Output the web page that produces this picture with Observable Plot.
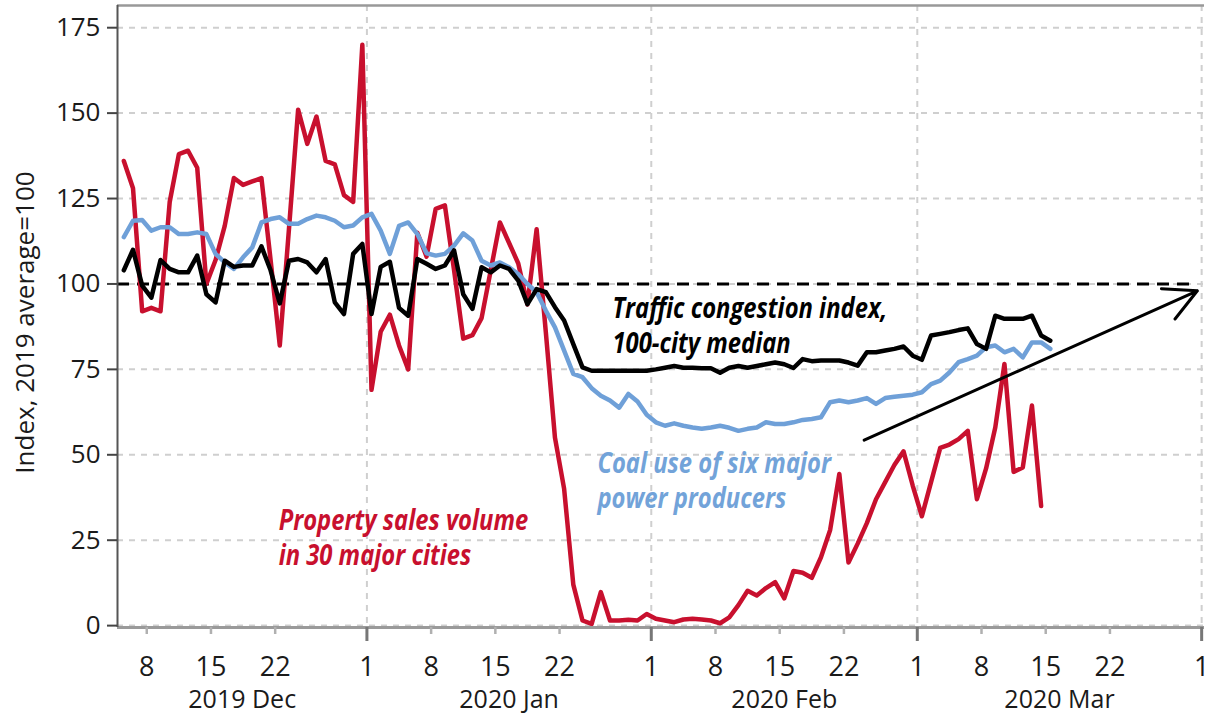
<!DOCTYPE html>
<html>
<head>
<meta charset="utf-8">
<script src="https://cdn.jsdelivr.net/npm/d3@7"></script>
<script src="https://cdn.jsdelivr.net/npm/@observablehq/plot@0.6"></script>
<style>
  html, body { margin: 0; padding: 0; background: #fff; }
  #chart { width: 1207px; height: 718px; }
</style>
</head>
<body>
<div id="chart"></div>
<script>
// ---- data (daily, starting 2019-12-05) ----
const startDate = "2019-12-05";

// Property sales volume in 30 major cities (Dec 5 – Mar 14)
const propertySales = [
  136, 128, 92, 93, 92, 124, 138, 139, 134, 100, 107, 117, 131, 129, 130, 131, 107, 82, 116, 151, 141, 149, 136, 135, 126, 124, 170,
  69, 86, 91, 82, 75, 115, 108, 122, 123, 104, 84, 85, 90, 104, 118, 112, 106, 94, 116, 86, 55, 40, 12, 1.5, 0.5, 9.8, 1.5, 1.5, 1.7, 1.5, 3.4,
  2, 1.5, 1, 1.8, 2, 1.8, 1.5, 0.7, 2.4, 6, 10.2, 8.8, 11, 12.7, 8, 16, 15.5, 14, 20, 28, 44.4, 18.5, 24, 30, 37, 42, 47, 51, 41,
  32, 42, 52, 53, 54.6, 57, 37, 46, 58, 76.6, 45, 46.3, 64.4, 35
];

// Traffic congestion index, 100-city median (Dec 5 – Mar 15)
const trafficIndex = [
  104, 110, 99.5, 96, 107, 104.4, 103.4, 103.4, 108.3, 97, 94.6, 106.8, 105, 105.4, 105.4, 111, 104, 94.3, 106.8, 107.3, 106.3, 103.4, 107.3, 94.6, 91.2, 108.8, 111.7,
  91.2, 105, 106.5, 93, 90.7, 107.3, 105.9, 104.4, 105.4, 109.8, 97, 92.7, 104.9, 103.4, 105.4, 104.4, 101, 94.1, 98.5, 97.6, 93.2, 89.3, 82.4, 75.6, 74.6, 74.6, 74.6, 74.6, 74.6, 74.6, 74.6,
  75, 75.5, 76, 75.5, 75.5, 75.3, 75.3, 74, 75.5, 76, 75.5, 76, 76.5, 77, 76.5, 75.4, 78, 77.4, 77.6, 77.6, 77.6, 77, 76.1, 80, 80, 80.5, 81, 81.7, 79,
  77.8, 84.9, 85.4, 85.9, 86.5, 87, 82.4, 81, 90.7, 89.8, 89.8, 89.8, 90.7, 84.9, 83.4
];

// Coal use of six major power producers (Dec 5 – Mar 15)
const coalUse = [
  113.7, 118.5, 118.7, 115.6, 116.6, 116.6, 114.6, 114.6, 115.1, 114.6, 108.8, 106.3, 104.4, 107.8, 110.7, 118, 119, 119.5, 117.6, 117.6, 119, 120, 119.5, 118.5, 116.6, 117.1, 119.5,
  120.5, 115.6, 108.8, 117, 118, 114.6, 109, 108.3, 108.8, 111.2, 114.8, 112.7, 106.8, 105.4, 106.3, 104.9, 102.9, 100, 97.6, 92.2, 87.3, 80.5, 73.7, 72.7, 69.5, 67.3, 65.9, 63.8, 67.8, 65.6, 61.7,
  59.5, 58.5, 59.2, 58.5, 58, 57.6, 58, 58.5, 57.9, 57, 57.6, 58, 59.5, 59, 59, 59.5, 60.2, 60.5, 61, 65.4, 65.9, 65.4, 65.9, 66.6, 64.9, 66.6, 67, 67.3, 67.6,
  68.3, 70.7, 71.7, 74.1, 77.1, 78, 79, 81.5, 82, 80, 81, 78.5, 82.9, 82.9, 81
];

const yTicks = [0, 25, 50, 75, 100, 125, 150, 175];
const minorTickDays = [8, 15, 22];
const monthLabels = ["2019 Dec", "2020 Jan", "2020 Feb", "2020 Mar"];
const xDomainISO = ["2019-12-04T19:26Z", "2020-04-01T07:26Z"];
const yDomain = [-0.55, 181.5];
const referenceLevel = [100];

// annotation anchors (data coordinates)
const labelTexts = ["Traffic congestion index,\n100-city median", "Coal use of six major\npower producers", "Property sales volume\nin 30 major cities"];
const labelDates = ["2020-01-27T18:30Z", "2020-01-26T03:00Z", "2019-12-22T09:00Z"];
const labelValues = [97.2, 51.8, 35.2];
const labelColors = ["#000000", "#72a3d9", "#c8102e"];
const arrowFrom = ["2020-02-24T05:00Z", 54.3];
const arrowTo = ["2020-03-31T12:45Z", 98.0];

// ---- build tables ----
const start = new Date(startDate + "T00:00Z");
const rows = (values) => values.map((v, i) => ({
  date: new Date(d3.utcDay.offset(start, i).getTime() + 12 * 3600e3),
  value: v
}));
const propRows = rows(propertySales);
const trafficRows = rows(trafficIndex);
const coalRows = rows(coalUse);

const xDomain = xDomainISO.map(s => new Date(s));
const monthStarts = d3.utcMonth.range(xDomain[0], xDomain[1]);
const monthsAll = d3.utcMonth.range(d3.utcMonth.floor(xDomain[0]), xDomain[1]);
const minorTicks = monthsAll.flatMap(m => minorTickDays.map(d => new Date(Date.UTC(m.getUTCFullYear(), m.getUTCMonth(), d))))
  .filter(d => d >= xDomain[0] && d <= xDomain[1]);
const allTicks = [...monthStarts, ...minorTicks].sort((a, b) => a - b);
const monthMids = monthsAll.map(m => {
  const a = Math.max(+m, +xDomain[0]);
  const b = Math.min(+d3.utcMonth.offset(m, 1), +xDomain[1]);
  return new Date((a + b) / 2);
});
const monthLabelMap = new Map(monthMids.map((d, i) => [+d, monthLabels[i]]));

const annotations = labelTexts.map((t, i) => ({
  text: t, date: new Date(labelDates[i]), value: labelValues[i], color: labelColors[i]
}));
const arrows = [{x1: new Date(arrowFrom[0]), y1: arrowFrom[1], x2: new Date(arrowTo[0]), y2: arrowTo[1]}];

const red = "#c8102e", blue = "#6fa0d8";
const grid = {stroke: "#cfcfcf", strokeWidth: 2, strokeDasharray: "6,6"};
const font = "'Open Sans', 'Noto Sans', sans-serif";

const chart = Plot.plot({
  width: 1207,
  height: 718,
  marginLeft: 117,
  marginRight: 3,
  marginTop: 5,
  marginBottom: 91,
  style: {
    fontFamily: font,
    fontSize: "26px",
    color: "#1a1a1a",
    background: "#fff",
    overflow: "visible"
  },
  x: {type: "utc", domain: xDomain},
  y: {domain: yDomain},
  marks: [
    Plot.ruleY(yTicks, grid),
    Plot.ruleX(monthStarts, grid),
    Plot.ruleY(referenceLevel, {stroke: "#000", strokeWidth: 3, strokeDasharray: "12,8", insetRight: 7}),
    Plot.line(propRows, {x: "date", y: "value", stroke: red, strokeWidth: 4.5, strokeLinejoin: "round"}),
    Plot.line(coalRows, {x: "date", y: "value", stroke: blue, strokeWidth: 4.5, strokeLinejoin: "round"}),
    Plot.line(trafficRows, {x: "date", y: "value", stroke: "#000", strokeWidth: 4.5, strokeLinejoin: "round"}),
    Plot.arrow(arrows, {x1: "x1", y1: "y1", x2: "x2", y2: "y2", stroke: "#000", strokeWidth: 3, headLength: 18, headAngle: 55}),
    Plot.text(annotations, {
      x: "date", y: "value", text: "text", fill: "color",
      textAnchor: "start", lineAnchor: "top", lineHeight: 1.25,
      fontSize: 28, fontWeight: "bold", fontStyle: "italic"
    }),
    Plot.ruleY([yDomain[0]], {stroke: "#9a9a9a", strokeWidth: 3}),
    Plot.ruleY([yDomain[1]], {stroke: "#999", strokeWidth: 2.5}),
    Plot.ruleX([xDomain[0]], {stroke: "#555", strokeWidth: 2}),
    Plot.axisY({ticks: yTicks, tickSize: 10, tickPadding: 7, fontSize: 26, stroke: "#444", strokeWidth: 2, label: null}),
    Plot.axisX({ticks: monthStarts, tickSize: 14, tickFormat: () => "", stroke: "#777", strokeWidth: 3, label: null}),
    Plot.axisX({ticks: minorTicks, tickSize: 7, tickFormat: () => "", stroke: "#b0b0b0", strokeWidth: 2.5, label: null}),
    Plot.axisX({ticks: allTicks, tickSize: 0, tickPadding: 29, tickFormat: d => String(d.getUTCDate()), fontSize: 27, label: null}),
    Plot.axisX({ticks: monthMids, tickSize: 0, tickPadding: 63, tickFormat: d => monthLabelMap.get(+d), fontSize: 25, label: null}),
    Plot.text(["Index, 2019 average=100"], {
      frameAnchor: "left", rotate: -90, dx: -92, dy: 6, textAnchor: "middle", lineAnchor: "middle",
      fontSize: 26, fill: "#1a1a1a"
    })
  ]
});
document.getElementById("chart").appendChild(chart);

// condense annotation glyphs horizontally (the reference uses a condensed face)
const condense = 0.85;
const annotationLines = new Set(labelTexts.flatMap(t => t.split("\n")));
chart.querySelectorAll("text").forEach(t => {
  const spans = t.querySelectorAll("tspan");
  const first = spans.length ? spans[0].textContent : t.textContent;
  if (!annotationLines.has(first)) return;
  let tr = t.getAttribute("transform");
  if (!tr) {
    const x = +(t.getAttribute("x") || 0), y = +(t.getAttribute("y") || 0);
    t.removeAttribute("x"); t.removeAttribute("y");
    tr = `translate(${x},${y})`;
  }
  t.setAttribute("transform", tr + ` scale(${condense},1)`);
});
</script>
</body>
</html>
